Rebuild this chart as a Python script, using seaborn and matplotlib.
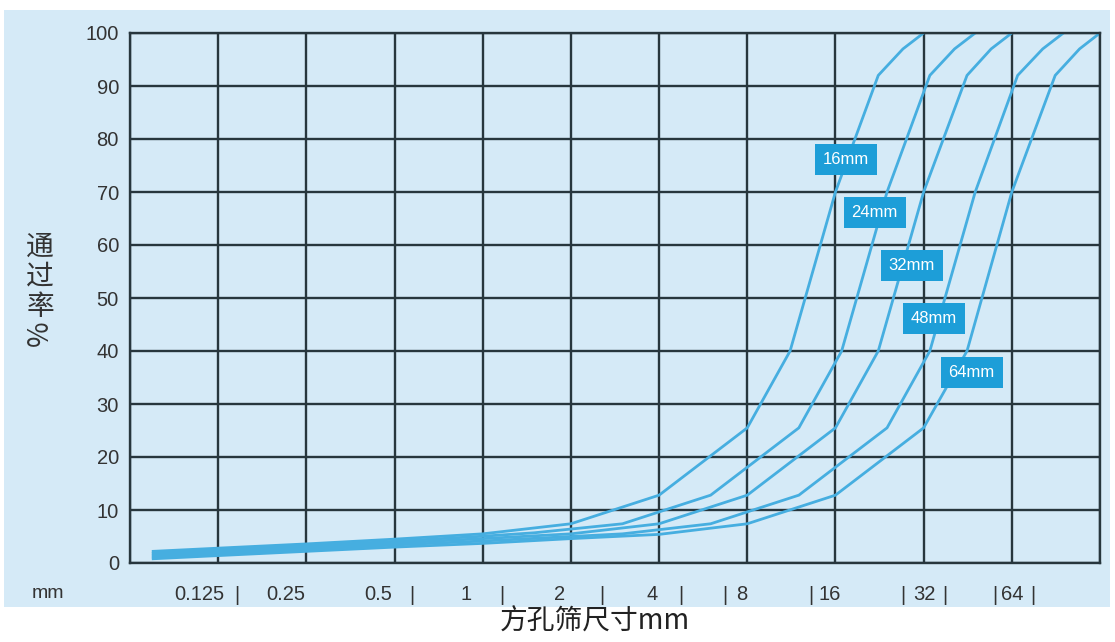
import numpy as np
import pandas as pd
import matplotlib
matplotlib.use("Agg")
import matplotlib.pyplot as plt
import matplotlib.transforms as mtrans
from matplotlib.patches import Rectangle
from matplotlib.ticker import NullLocator, FixedLocator
import seaborn as sns

# grading curves, sieve size (mm) vs passing (%)
grades = ["16mm", "24mm", "32mm", "48mm", "64mm"]
sizes_16 = [0.075, 0.125, 0.25, 0.5, 1, 2, 4, 8, 11.2, 16, 22.4, 27.2, 32]
pct_16 = [2.2, 2.8, 3.6, 4.5, 5.5, 7.4, 12.8, 25.5, 40, 70, 92, 97, 100]
sizes_24 = [0.075, 0.125, 0.25, 0.5, 1, 1.5, 3, 6, 12, 16.8, 24, 33.6, 40.8, 48]
pct_24 = [1.85, 2.45, 3.25, 4.1, 5.05, 5.7, 7.4, 12.8, 25.5, 40, 70, 92, 97, 100]
sizes_32 = [0.075, 0.125, 0.25, 0.5, 1, 2, 4, 8, 16, 22.4, 32, 45, 54.4, 64]
pct_32 = [1.5, 2.1, 2.9, 3.75, 4.6, 5.5, 7.4, 12.8, 25.5, 40, 70, 92, 97, 100]
sizes_48 = [0.075, 0.125, 0.25, 0.5, 1, 3, 6, 12, 24, 33.6, 48, 67, 81.6, 96]
pct_48 = [1.15, 1.75, 2.55, 3.4, 4.15, 5.5, 7.4, 12.8, 25.5, 40, 70, 92, 97, 100]
sizes_64 = [0.075, 0.125, 0.25, 0.5, 1, 2, 4, 8, 16, 32, 45, 64, 90, 109, 128]
pct_64 = [0.8, 1.4, 2.2, 3.0, 3.7, 4.6, 5.4, 7.4, 12.8, 25.5, 40, 70, 92, 97, 100]

# label boxes (size in mm, percent)
label_size = [17.4, 21.8, 29.2, 34.7, 46.7]
label_pct = [76.2, 66.2, 56.2, 46.2, 36.0]

# x axis texts and where they sit (log2 of mm)
xtick_text = ["0.125", "0.25", "0.5", "1", "2", "4", "8", "16", "32", "64"]
xtick_pos = [-3.21, -2.23, -1.18, -0.19, 0.875, 1.92, 2.94, 3.94, 5.01, 6.01]
bar_pos = [-2.79, -0.80, 0.22, 1.35, 2.25, 2.75, 3.72, 4.76, 5.24, 5.81, 6.24]

yticks = list(range(0, 101, 10))

rows = []
for g, s, p in zip(grades, [sizes_16, sizes_24, sizes_32, sizes_48, sizes_64],
                   [pct_16, pct_24, pct_32, pct_48, pct_64]):
    for a, b in zip(s, p):
        rows.append((g, a, b))
df = pd.DataFrame(rows, columns=["grade", "size", "pct"])

bg = "#d5eaf7"
gridc = "#27363d"
linec = "#46aee0"
boxc = "#1d9ed8"
textc = "#333333"

plt.rcParams["font.family"] = ["Liberation Sans", "Noto Sans CJK SC", "DejaVu Sans"]

fig = plt.figure(figsize=(11.15, 6.42), dpi=100)
fig.patches.append(Rectangle((4 / 1115, 1 - 607 / 642), 1106 / 1115, 597 / 642,
                             transform=fig.transFigure, fc=bg, ec="none", zorder=-10))
ax = fig.add_axes([130 / 1115, 1 - 563 / 642, 970 / 1115, 530 / 642])
ax.set_facecolor(bg)

sns.lineplot(data=df, x="size", y="pct", hue="grade", palette={g: linec for g in grades},
             estimator=None, sort=False, legend=False, lw=2.0, ax=ax)

ax.set_xscale("log", base=2)
ax.set_xlim(0.0625, 128)
ax.set_ylim(0, 100)
ax.xaxis.set_major_locator(FixedLocator([2.0 ** k for k in range(-4, 8)]))
ax.xaxis.set_minor_locator(NullLocator())
ax.set_xticklabels([])
ax.set_yticks(yticks)
ax.set_yticklabels([str(v) for v in yticks], fontsize=14.5, color=textc)
ax.tick_params(length=0, pad=8)
ax.grid(True, color=gridc, lw=1.7)
for sp in ax.spines.values():
    sp.set_color(gridc)
    sp.set_linewidth(1.7)
ax.set_xlabel("")
ax.set_ylabel("")

tr = mtrans.blended_transform_factory(ax.transData, ax.transAxes)
for t, p in zip(xtick_text, xtick_pos):
    ax.text(2.0 ** p, -0.0585, t, transform=tr, ha="center", va="center",
            fontsize=14.5, color=textc)
for p in bar_pos:
    ax.text(2.0 ** p, -0.061, "|", transform=tr, ha="center", va="center",
            fontsize=14.5, color=textc)

for g, s, p in zip(grades, label_size, label_pct):
    ax.text(s, p, g, ha="center", va="center", fontsize=12, color="white",
            bbox=dict(boxstyle="square,pad=0.48", fc=boxc, ec="none"), zorder=5)

fig.text(48 / 1115, 1 - 594 / 642, "mm", ha="center", va="center", fontsize=14, color=textc)
fig.text(40 / 1115, 1 - 277 / 642, "通\n过\n率", ha="center", va="center", fontsize=20,
         color=textc, linespacing=1.0, family=["Noto Sans CJK SC", "DejaVu Sans"])
fig.text(40 / 1115, 1 - 333 / 642, "%", ha="center", va="center", fontsize=20,
         color=textc, rotation=90, family=["Noto Sans CJK SC", "DejaVu Sans"])
fig.text(595 / 1115, 1 - 622 / 642, "方孔筛尺寸mm", ha="center", va="center", fontsize=20,
         color="#222222", family=["Noto Sans CJK SC", "DejaVu Sans"])

fig.savefig("out.png", dpi=100)
